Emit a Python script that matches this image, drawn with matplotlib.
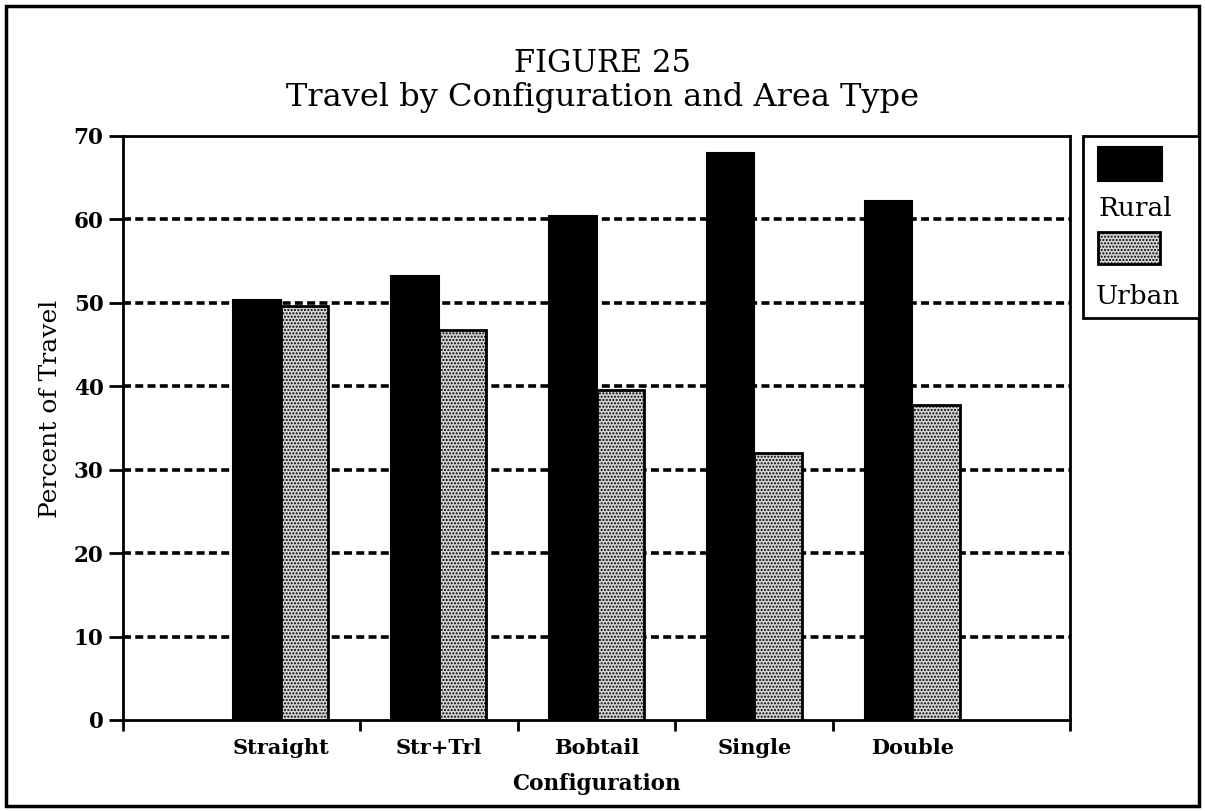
import matplotlib
matplotlib.use("Agg")
import matplotlib.pyplot as plt
from matplotlib.patches import Rectangle
import numpy as np

categories = ["Straight", "Str+Trl", "Bobtail", "Single", "Double"]
rural = [50.4, 53.2, 60.4, 68.0, 62.2]
urban = [49.6, 46.8, 39.6, 32.0, 37.8]
yticks = [0, 10, 20, 30, 40, 50, 60, 70]
series_labels = ["Rural", "Urban"]

plt.rcParams['font.family'] = ['DejaVu Serif']
plt.rcParams['hatch.color'] = '#333333'
plt.rcParams['hatch.linewidth'] = 1.0

URBAN_FACE = '#d4d4d4'

W, H = 1205, 811
fig = plt.figure(figsize=(W / 100, H / 100), dpi=100)

def fx(px):
    return px / W

def fy(py):
    return 1 - py / H

ax = fig.add_axes([fx(123), fy(720), fx(1070) - fx(123), fy(136) - fy(720)])

x = np.arange(1, len(categories) + 1)
bw = 0.3
ax.bar(x - bw / 2, rural, width=bw, color='black', edgecolor='black', linewidth=1.5, zorder=3)
ax.bar(x + bw / 2, urban, width=bw, facecolor=URBAN_FACE, edgecolor='black', hatch='.....',
       linewidth=2, zorder=3)

ax.set_xlim(0, 6)
ax.set_ylim(0, 70)
ax.set_yticks(yticks)
ax.set_yticklabels([str(v) for v in yticks], fontsize=15.5, fontweight='bold')
ax.set_xticks([0, 1.5, 2.5, 3.5, 4.5, 6])
ax.set_xticklabels([])
ax.set_xticks(x, minor=True)
ax.set_xticklabels(categories, minor=True, fontsize=15, fontweight='bold')
ax.tick_params(axis='x', which='minor', length=0, pad=13)
ax.tick_params(axis='x', which='major', length=8, width=2, direction='out')
ax.tick_params(axis='y', length=10, width=2, direction='out', pad=4)

for v in yticks[1:-1]:
    ax.axhline(v, color='black', linewidth=2.6, linestyle=(0, (2.2, 1.2)), zorder=1)

for s in ax.spines.values():
    s.set_linewidth(2)

ax.set_ylabel("Percent of Travel", fontsize=18)
ax.yaxis.set_label_coords((62 - 123) / 947, (720 - 409) / 584)
ax.set_xlabel("Configuration", fontsize=15.5, fontweight='bold', labelpad=11)

fig.text(0.5, fy(72), "FIGURE 25", ha='center', va='baseline', fontsize=22)
fig.text(0.5, fy(106), "Travel by Configuration and Area Type", ha='center', va='baseline',
         fontsize=23)

# figure border
fig.patches.append(Rectangle((fx(6), fy(806)), fx(1199) - fx(6), fy(6) - fy(806),
                             transform=fig.transFigure, fill=False, edgecolor='black',
                             linewidth=2.5))

# legend (handles above labels)
fig.patches.append(Rectangle((fx(1083), fy(318)), fx(1199) - fx(1083), fy(136) - fy(318),
                             transform=fig.transFigure, fill=True, facecolor='white',
                             edgecolor='black', linewidth=2))
fig.patches.append(Rectangle((fx(1098), fy(181)), fx(1162) - fx(1098), fy(147) - fy(181),
                             transform=fig.transFigure, facecolor='black', edgecolor='black',
                             linewidth=1.5))
fig.text(fx(1098), fy(209), series_labels[0], ha='left', va='center', fontsize=19)
fig.patches.append(Rectangle((fx(1098), fy(264)), fx(1160) - fx(1098), fy(232) - fy(264),
                             transform=fig.transFigure, facecolor=URBAN_FACE, edgecolor='black',
                             hatch='.....', linewidth=2))
fig.text(fx(1096), fy(297), series_labels[1], ha='left', va='center', fontsize=19)

fig.savefig("out.png", dpi=100)
